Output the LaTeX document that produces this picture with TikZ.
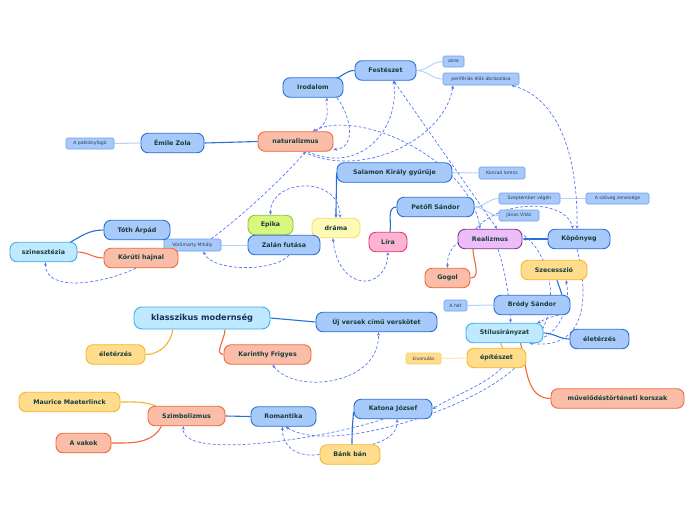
\documentclass[tikz,border=0pt]{standalone}
\usepackage{fontspec}
\setmainfont{DejaVu Sans}
\usetikzlibrary{arrows.meta,calc}
\pgfdeclarelayer{bg}
\pgfdeclarelayer{paper}
\pgfsetlayers{paper,bg,main}
\definecolor{txt}{HTML}{173D3A}
\definecolor{smtxt}{HTML}{2B3A4A}
\definecolor{bluefill}{HTML}{A8CAFB}
\definecolor{bluebd}{HTML}{2A6FD6}
\definecolor{smbd}{HTML}{6E9FEF}
\definecolor{salfill}{HTML}{F9BDA8}
\definecolor{salbd}{HTML}{F2683A}
\definecolor{yelfill}{HTML}{FFDD8C}
\definecolor{yelbd}{HTML}{F7B62A}
\definecolor{cyanfill}{HTML}{BEE9FE}
\definecolor{cyanbd}{HTML}{3BB0EA}
\definecolor{grnfill}{HTML}{D9F77C}
\definecolor{grnbd}{HTML}{93C23A}
\definecolor{lyfill}{HTML}{FFFAB8}
\definecolor{lybd}{HTML}{F2DF5A}
\definecolor{pinkfill}{HTML}{FFB3D3}
\definecolor{pinkbd}{HTML}{E9367F}
\definecolor{purfill}{HTML}{ECBDF9}
\definecolor{purbd}{HTML}{7D3C8C}
\definecolor{relc}{HTML}{5878F3}
\definecolor{lightln}{HTML}{B7D1F8}
\definecolor{lightyl}{HTML}{FFE7A6}
\definecolor{navy}{HTML}{1A2F55}
\tikzset{
 nb/.style={rounded corners=7pt, line width=0.9pt, minimum height=19.5pt, inner sep=0pt,
   font=\fontsize{6.3}{7}\selectfont\bfseries, text=txt},
 bluen/.style={nb, draw=bluebd, fill=bluefill},
 saln/.style={nb, draw=salbd, fill=salfill},
 yeln/.style={nb, draw=yelbd, fill=yelfill},
 cyann/.style={nb, draw=cyanbd, fill=cyanfill},
 grnn/.style={nb, draw=grnbd, fill=grnfill},
 lyn/.style={nb, draw=lybd, fill=lyfill},
 pinkn/.style={nb, draw=pinkbd, fill=pinkfill},
 purn/.style={nb, draw=purbd, fill=purfill},
 sm/.style={rounded corners=1.5pt, line width=0.6pt, minimum height=11pt, inner sep=0pt,
   font=\fontsize{4.6}{5}\selectfont, text=smtxt, draw=smbd, fill=bluefill},
 smy/.style={sm, draw=yelbd!70, fill=yelfill},
 tr/.style={line width=1.1pt},
 lt/.style={line width=1pt, draw=lightln},
 rel/.style={draw=relc, line width=0.7pt, dash pattern=on 3pt off 2pt},
 ah/.style={-{Stealth[length=3.5pt,width=3pt]}},
 ha/.style={{Stealth[length=3.5pt,width=3pt]}-},
 hah/.style={{Stealth[length=3.5pt,width=3pt]}-{Stealth[length=3.5pt,width=3pt]}},
}
\begin{document}
\begin{tikzpicture}[x=1pt,y=-1pt]
\begin{pgfonlayer}{paper}
\fill[white] (0,0) rectangle (696,520);
\end{pgfonlayer}
\useasboundingbox (0,0) rectangle (696,520);
% nodes
\node[bluen, minimum width=61pt] (fest) at (385.5,70.5) {Festészet};
\node[bluen, minimum width=60pt] (irod) at (313,87.5) {Irodalom};
\node[sm, minimum width=21pt] (zene) at (453.5,61.5) {zene};
\node[sm, minimum width=76pt, minimum height=12pt] (perif) at (481,79) {perifériás élők ábrázolása};
\node[saln, minimum width=75pt] (natur) at (295.5,141.5) {naturalizmus};
\node[bluen, minimum width=63pt] (zola) at (172.5,143) {Émile Zola};
\node[sm, minimum width=48pt] (patk) at (90,143.5) {A patkányfogó};
\node[bluen, minimum width=115pt] (salamon) at (394.5,172.5) {Salamon Király gyűrűje};
\node[sm, minimum width=46pt, minimum height=12pt] (konrad) at (502,173) {Konrad lorenz};
\node[bluen, minimum width=77pt] (petofi) at (435.5,207) {Petőfi Sándor};
\node[sm, minimum width=61pt] (szept) at (529.5,198.5) {Szeptember végén};
\node[sm, minimum width=63pt] (zeneis) at (617.5,198.5) {A szöveg zeneisége};
\node[sm, minimum width=40pt] (janos) at (519,215.5) {János Vitéz};
\node[grnn, minimum width=45pt] (epika) at (270.5,225) {Epika};
\node[lyn, minimum width=48pt] (drama) at (336,228) {dráma};
\node[bluen, minimum width=72pt] (zalan) at (284,245) {Zalán futása};
\node[sm, minimum width=57pt, minimum height=12pt] (vorom) at (192.5,245) {Vörömarty Mihály};
\node[pinkn, minimum width=38pt] (lira) at (388,242) {Líra};
\node[purn, minimum width=64pt] (real) at (490,239) {Realizmus};
\node[bluen, minimum width=62pt] (kopo) at (579,239) {Köpönyeg};
\node[yeln, minimum width=66pt] (szec) at (554,270) {Szecesszió};
\node[saln, minimum width=45pt] (gogol) at (447.5,278) {Gogol};
\node[bluen, minimum width=66pt] (toth) at (137,230) {Tóth Árpád};
\node[saln, minimum width=74pt] (korut) at (141,258) {Körúti hajnal};
\node[cyann, minimum width=67pt] (szin) at (43.5,252) {szinesztézia};
\node[sm, minimum width=23pt] (ahet) at (455.5,305.5) {A hét};
\node[bluen, minimum width=76pt] (brody) at (532,305) {Bródy Sándor};
\node[cyann, minimum width=136pt, minimum height=22pt, rounded corners=8pt, font=\fontsize{8.2}{9}\selectfont\bfseries, text=navy] (klassz) at (202,318) {klasszikus modernség};
\node[bluen, minimum width=121pt] (ujv) at (376.5,322) {Új versek című verskötet};
\node[cyann, minimum width=77pt] (stilus) at (504.5,333) {Stílusirányzat};
\node[bluen, minimum width=59pt] (eletR) at (599.5,339) {életérzés};
\node[yeln, minimum width=59pt] (eletL) at (115.5,354.5) {életérzés};
\node[saln, minimum width=87pt] (karin) at (267.5,354.5) {Karinthy Frigyes};
\node[smy, minimum width=35pt] (kivon) at (423.5,358.5) {kivonulás};
\node[yeln, minimum width=59pt] (epit) at (496.5,358) {építészet};
\node[saln, minimum width=133pt] (muvel) at (617.5,398.5) {művelődéstörténeti korszak};
\node[yeln, minimum width=101pt] (maur) at (69.5,402) {Maurice Maeterlinck};
\node[saln, minimum width=77pt] (szimb) at (186.5,416) {Szimbolizmus};
\node[bluen, minimum width=65pt] (roman) at (283.5,416.5) {Romantika};
\node[bluen, minimum width=78pt] (katona) at (393,409) {Katona József};
\node[saln, minimum width=55pt] (vakok) at (83.5,443) {A vakok};
\node[yeln, minimum width=60pt] (bank) at (350,454.5) {Bánk bán};

\begin{pgfonlayer}{bg}
% tree connectors
\draw[tr, bluebd, ah] (fest.west) to[out=180,in=15] ($(irod.north east)+(-10,2)$);
\draw[lt] (fest.east) to[out=0,in=180] (zene.west);
\draw[lt] (fest.east) to[out=0,in=180] (perif.west);
\draw[tr, bluebd] (natur.west) -- (zola.east);
\draw[lt] (zola.west) -- (patk.east);
\draw[lt] (salamon.east) -- (konrad.west);
\draw[tr, bluebd, ah] (salamon.west) to[out=-90,in=90] (drama.north);
\draw[tr, bluebd] (petofi.west) to[out=180,in=80] ($(lira.north)+(2,0)$);
\draw[lt] (petofi.east) to[out=0,in=180] (szept.west);
\draw[lt] (petofi.east) to[out=0,in=180] (janos.west);
\draw[lt] (szept.east) -- (zeneis.west);
\draw[lt] (zalan.west) -- (vorom.east);
\draw[tr, bluebd] ($(szin.north east)+(-8,1)$) to[out=30,in=180] (toth.west);
\draw[tr, salbd] (szin.east) to[out=0,in=180] (korut.west);
\draw[tr, salbd] ($(real.south)+(-17,0)$) to[out=-90,in=0] (gogol.east);
\draw[tr, bluebd, ah] (kopo.west) -- (real.east);
\draw[tr, bluebd] ($(szec.south)+(3,0)$) -- ($(brody.north)+(30,0)$);
\draw[lt] (ahet.east) -- (brody.west);
\draw[tr, bluebd] (klassz.east) -- (ujv.west);
\draw[tr, yelbd] ($(klassz.south)+(-29,0)$) to[out=-100,in=0] (eletL.east);
\draw[tr, salbd] ($(klassz.south)+(23,0)$) to[out=-90,in=180] (karin.west);
\draw[tr, bluebd] (stilus.east) to[out=0,in=180] (eletR.west);
\draw[tr, yelbd] ($(stilus.south)+(-4,0)$) -- ($(epit.north)+(6,0)$);
\draw[tr, salbd] ($(stilus.south)+(16,0)$) to[out=-75,in=180] (muvel.west);
\draw[line width=1pt, draw=lightyl] (epit.west) -- (kivon.east);
\draw[tr, yelbd] ($(szimb.north west)+(8,0)$) to[out=160,in=0] (maur.east);
\draw[tr, salbd] ($(szimb.south west)+(14,0)$) to[out=-120,in=0] (vakok.east);
\draw[tr, bluebd] (szimb.east) -- (roman.west);
\draw[tr, bluebd] ($(katona.west)+(0,3)$) to[out=-95,in=90] ($(bank.north)+(2,0)$);
% relationships
\draw[rel, ah] ($(natur.north)+(20,0)$) .. controls (332,120) and (326,110) .. ($(irod.south)+(14,0)$);
\draw[rel, ah] ($(irod.south)+(24,0)$) .. controls (352,118) and (356,148) .. ($(natur.east)+(0,8)$);
\draw[rel, hah] ($(fest.south)+(8,0)$) -- ($(real.north)+(7,0)$);
\draw[rel, ah] ($(natur.south)+(12,0)$) .. controls (360,175) and (400,130) .. ($(fest.south)+(8,0)$);
\draw[rel, ah] ($(natur.south)+(8,0)$) .. controls (360,180) and (445,140) .. ($(perif.south)+(-28,0)$);
\draw[rel, hah] ($(perif.south east)+(-8,0)$) .. controls (565,100) and (578,170) .. ($(kopo.north)+(-2,0)$);
\draw[rel, hah] ($(natur.north)+(17,0)$) .. controls (360,108) and (470,160) .. ($(real.north)+(-10,0)$);
\draw[rel, ah] ($(vorom.north east)+(-10,0)$) .. controls (250,210) and (290,170) .. ($(natur.south)+(10,0)$);
\draw[rel, hah] (epika.north) .. controls (270,178) and (340,175) .. ($(drama.north)+(4,0)$);
\draw[rel, hah] ($(drama.south)+(-3,0)$) .. controls (338,292) and (386,292) .. (lira.south);
\draw[rel, ah] ($(zalan.south)+(5,0)$) .. controls (275,272) and (212,272) .. ($(vorom.south)+(11,0)$);
\draw[rel, ah] ($(korut.south)+(-5,0)$) .. controls (100,285) and (45,292) .. ($(szin.south)+(2,0)$);
\draw[rel, hah] ($(karin.south)+(5,0)$) .. controls (295,395) and (380,385) .. ($(ujv.south)+(2,0)$);
\draw[rel, ah] ($(katona.south)+(-10,0)$) .. controls (320,440) and (180,460) .. ($(szimb.south)+(-3,0)$);
\draw[rel, ah] (bank.west) .. controls (295,458) and (282,445) .. ($(roman.south)+(-1,0)$);
\draw[rel, ah] ($(epit.south)+(18,0)$) .. controls (470,410) and (330,455) .. ($(roman.south)+(2,0)$);
\draw[rel, ah] ($(epit.south)+(5,0)$) .. controls (485,385) and (455,395) .. (katona.east);
\draw[rel, ah] ($(bank.north east)+(-8,0)$) .. controls (388,440) and (398,432) .. ($(katona.south)+(4,0)$);
\draw[rel, ah] ($(real.west)+(2,3)$) .. controls (452,246) and (447,255) .. (gogol.north);
\draw[rel, ah] ($(real.north)+(-14,0)$) .. controls (500,200) and (565,198) .. ($(kopo.north)+(-6,0)$);
\draw[rel, ah] ($(real.south)+(8,0)$) .. controls (505,270) and (510,300) .. ($(stilus.north)+(6,0)$);
\draw[rel, ah] ($(brody.south east)+(-12,0)$) .. controls (548,318) .. ($(stilus.north east)+(-6,0)$);
\draw[rel, ah] ($(kopo.south)+(-2,0)$) .. controls (590,300) and (585,350) .. ($(stilus.south east)+(-14,0)$);
\draw[rel, hah] ($(szec.south)+(12,0)$) .. controls (572,310) and (555,335) .. ($(stilus.east)+(-5,6)$);
\draw[rel, ah] ($(real.east)+(-3,-6)$) .. controls (545,245) and (565,300) .. ($(stilus.east)+(-8,7)$);
\end{pgfonlayer}
\end{tikzpicture}
\end{document}
